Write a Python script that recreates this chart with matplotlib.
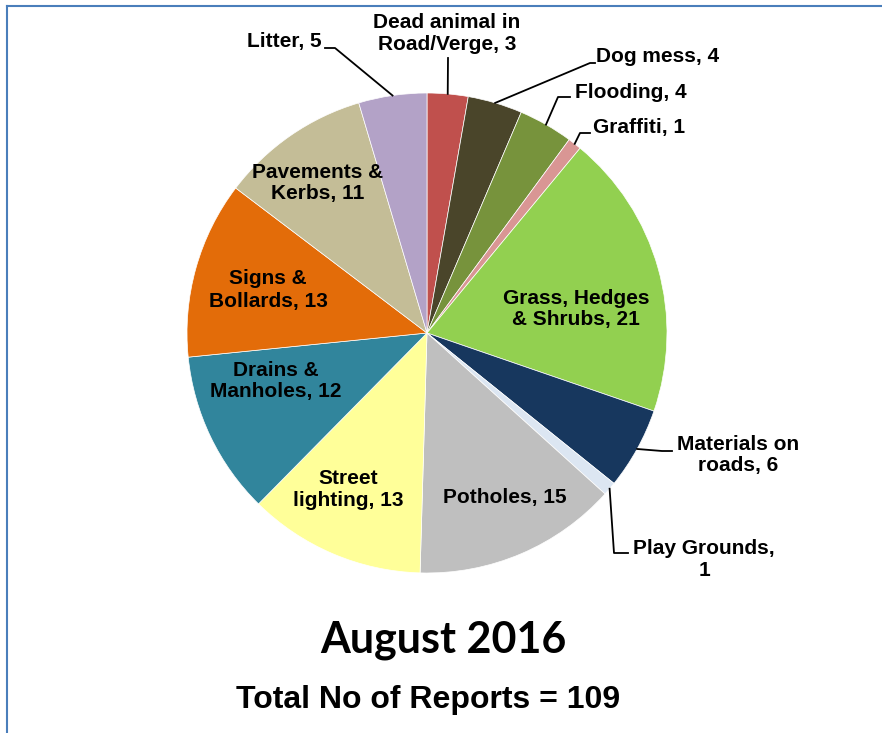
import numpy as np
import matplotlib.pyplot as plt
from matplotlib.lines import Line2D

categories = ["Dead animal in\nRoad/Verge", "Dog mess", "Flooding", "Graffiti",
              "Grass, Hedges\n& Shrubs", "Materials on\nroads", "Play Grounds,\n",
              "Potholes", "Street\nlighting", "Drains &\nManholes", "Signs &\nBollards",
              "Pavements &\nKerbs", "Litter"]
counts = [3, 4, 4, 1, 21, 6, 1, 15, 13, 12, 13, 11, 5]
colors = ["#C0504D", "#4A452A", "#77933C", "#D99694", "#92D050", "#17375E", "#DCE6F2",
          "#BFBFBF", "#FFFF99", "#31859C", "#E36C09", "#C4BD97", "#B3A2C7"]

W, H = 882, 733
CX, CY, R = 427, 333, 240


def px(x, y):
    # pixel position -> pie data coords (radius 1)
    return (x - CX) / R, (CY - y) / R


fig = plt.figure(figsize=(W / 100, H / 100), dpi=100)
ax = fig.add_axes([(CX - R) / W, (H - CY - R) / H, 2 * R / W, 2 * R / H])

wedges, _ = ax.pie(counts, colors=colors, startangle=90, counterclock=False,
                   radius=1, wedgeprops=dict(edgecolor="white", linewidth=0.5))
ax.set_xlim(-1, 1)
ax.set_ylim(-1, 1)
ax.axis("off")

font = dict(family="Liberation Sans", fontweight="bold", fontsize=15, color="black")

# label text anchor (pixels), alignment, and leader elbow points (pixels) or None
placements = {
    0: ((447, 34), "center", [(448, 58)]),
    1: ((596, 57), "left", [(590, 63), (595, 63)]),
    2: ((575, 93), "left", [(558, 97), (570, 97)]),
    3: ((593, 128), "left", [(580, 133), (590, 133)]),
    4: ((576, 309), "center", None),
    5: ((738, 455), "center", [(662, 451), (672, 451)]),
    6: ((704, 559), "center", [(614, 553), (628, 553)]),
    7: ((505, 497), "center", None),
    8: ((348, 489), "center", None),
    9: ((276, 381), "center", None),
    10: ((268, 290), "center", None),
    11: ((318, 183), "center", None),
    12: ((322, 42), "right", [(335, 48), (325, 48)]),
}

for i, w in enumerate(wedges):
    (tx, ty), ha, elbow = placements[i]
    name = categories[i]
    if name.endswith("\n"):
        label = f"{name}{counts[i]}"
    else:
        label = f"{name}, {counts[i]}"
    ax.text(*px(tx, ty), label, ha=ha, va="center", multialignment="center",
            linespacing=1.2, **font)
    if elbow:
        theta = np.deg2rad((w.theta1 + w.theta2) / 2)
        pts = [(np.cos(theta), np.sin(theta))] + [px(x, y) for x, y in elbow]
        xs, ys = zip(*pts)
        ax.plot(xs, ys, color="black", linewidth=1.3, clip_on=False)

fig.text(443 / W, 1 - 640 / H, "August 2016", ha="center", va="center",
         family="Lato", fontweight="bold", fontsize=31)
fig.text(428 / W, 1 - 700 / H, "Total No of Reports = 109", ha="center", va="center",
         family="Liberation Sans", fontweight="bold", fontsize=23)

# chart frame (only top and left edges visible)
fig.add_artist(Line2D([7 / W, 1], [1 - 6 / H, 1 - 6 / H], color="#4A7EBB", linewidth=1.5))
fig.add_artist(Line2D([7 / W, 7 / W], [0, 1 - 6 / H], color="#4A7EBB", linewidth=1.5))

fig.savefig("out.png", dpi=100, facecolor="white")
